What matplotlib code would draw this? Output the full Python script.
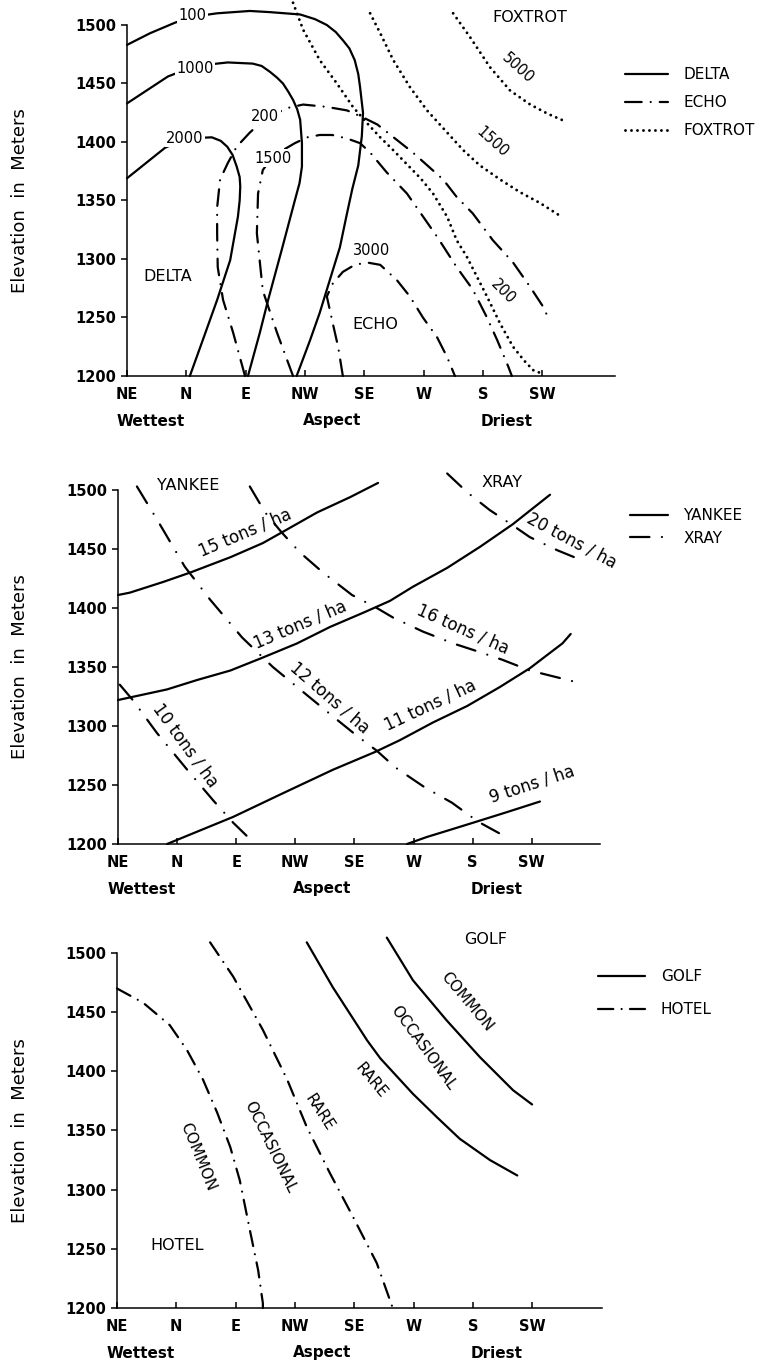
import matplotlib
matplotlib.use("Agg")
import matplotlib.pyplot as plt
from matplotlib.lines import Line2D

plt.rcParams["font.family"] = ["DejaVu Sans"]
plt.rcParams["lines.scale_dashes"] = False

# ---------------------------------------------------------------- axes data
aspects = ["NE", "N", "E", "NW", "SE", "W", "S", "SW"]
aspect_pos = [0, 1, 2, 3, 4, 5, 6, 7]
elev_ticks = [1200, 1250, 1300, 1350, 1400, 1450, 1500]
moisture_labels = ["Wettest", "Aspect", "Driest"]
moisture_pos = [0.40, 3.46, 6.40]

# ---------------------------------------------------------------- panel 1
delta_100_x = [0.00, 0.39, 0.81, 1.10, 1.52, 2.07, 2.41, 2.92, 3.17, 3.37, 3.52, 3.64, 3.75,
               3.84, 3.90, 3.93, 3.98, 3.96, 3.90, 3.80, 3.71, 3.59, 3.42, 3.25, 3.09, 2.92, 2.86]
delta_100_y = [1483, 1493, 1502, 1507, 1510, 1512, 1511, 1509, 1505, 1500, 1494, 1487, 1480,
               1470, 1458, 1447, 1425, 1405, 1380, 1360, 1339, 1310, 1282, 1254, 1231, 1208, 1200]
delta_1000_x = [0.00, 0.69, 1.15, 1.70, 2.12, 2.27, 2.41, 2.53, 2.63, 2.72, 2.80, 2.87, 2.92,
                2.95, 2.95, 2.91, 2.83, 2.61, 2.38, 2.24, 2.04]
delta_1000_y = [1433, 1456, 1465, 1468, 1467, 1465, 1460, 1455, 1450, 1443, 1436, 1428, 1419,
                1399, 1379, 1365, 1350, 1308, 1265, 1237, 1200]
delta_2000_x = [0.00, 0.64, 0.98, 1.43, 1.58, 1.69, 1.78, 1.85, 1.90, 1.91, 1.90, 1.87, 1.74,
                1.52, 1.28, 1.06]
delta_2000_y = [1369, 1395, 1403, 1404, 1401, 1396, 1389, 1379, 1370, 1362, 1350, 1336, 1299,
                1265, 1231, 1200]

echo_200_x = [1.99, 1.79, 1.62, 1.53, 1.52, 1.52, 1.57, 1.70, 1.85, 2.07, 2.33, 2.70, 2.97,
              3.37, 3.71, 3.98, 4.22, 4.82, 5.33, 5.56, 5.83, 6.17, 6.51, 6.80, 7.02, 7.10]
echo_200_y = [1200, 1237, 1265, 1293, 1322, 1344, 1368, 1382, 1396, 1408, 1420, 1429, 1432,
              1430, 1427, 1421, 1415, 1391, 1368, 1353, 1339, 1316, 1297, 1276, 1259, 1250]
echo_1500_x = [2.80, 2.53, 2.29, 2.19, 2.21, 2.29, 2.46, 2.83, 3.04, 3.25, 3.46, 3.71, 3.93,
               4.10, 4.38, 4.72, 5.23, 5.56, 5.83, 6.07, 6.24, 6.43, 6.49]
echo_1500_y = [1200, 1237, 1273, 1322, 1356, 1376, 1388, 1399, 1404, 1406, 1406, 1403, 1399,
               1391, 1374, 1356, 1319, 1293, 1274, 1250, 1231, 1208, 1200]
echo_3000_x = [3.64, 3.56, 3.47, 3.37, 3.47, 3.64, 3.84, 4.05, 4.27, 4.55, 4.77, 4.99, 5.23,
               5.40, 5.53]
echo_3000_y = [1200, 1225, 1245, 1268, 1279, 1289, 1295, 1297, 1295, 1282, 1268, 1250, 1233,
               1216, 1200]

foxtrot_200_x = [2.80, 2.97, 3.25, 3.54, 3.81, 4.05, 4.27, 4.49, 4.72, 4.95, 5.16, 5.40, 5.56,
                 5.73, 5.90, 6.07, 6.29, 6.51, 6.70, 6.85, 6.95]
foxtrot_200_y = [1519, 1496, 1470, 1450, 1430, 1416, 1404, 1393, 1381, 1369, 1356, 1336, 1316,
                 1302, 1285, 1268, 1245, 1225, 1213, 1205, 1203]
foxtrot_1500_x = [4.10, 4.27, 4.49, 4.77, 5.06, 5.40, 5.67, 5.95, 6.29, 6.63, 6.96, 7.30]
foxtrot_1500_y = [1510, 1493, 1470, 1447, 1427, 1408, 1393, 1380, 1368, 1357, 1348, 1337]
foxtrot_5000_x = [5.50, 5.78, 6.12, 6.46, 6.80, 7.10, 7.42]
foxtrot_5000_y = [1510, 1490, 1464, 1444, 1432, 1424, 1417]

# ---------------------------------------------------------------- panel 2
yankee_15_x = [0.00, 0.20, 0.76, 1.22, 1.90, 2.45, 2.77, 3.37, 3.93, 4.40]
yankee_15_y = [1411, 1413, 1422, 1430, 1443, 1455, 1464, 1481, 1494, 1506]
yankee_13_x = [0.00, 0.83, 1.34, 1.90, 2.45, 3.03, 3.59, 4.15, 4.60, 4.99, 5.57, 6.13, 6.68, 7.31]
yankee_13_y = [1322, 1331, 1339, 1347, 1358, 1370, 1384, 1396, 1406, 1418, 1434, 1452, 1471, 1496]
yankee_11_x = [0.83, 1.95, 2.79, 3.64, 4.35, 4.77, 5.33, 5.91, 6.46, 6.97, 7.31, 7.52, 7.66]
yankee_11_y = [1200, 1223, 1243, 1263, 1278, 1288, 1303, 1317, 1333, 1349, 1362, 1370, 1378]
yankee_9_x = [4.89, 5.23, 5.62, 6.07, 6.58, 7.14]
yankee_9_y = [1200, 1206, 1212, 1219, 1227, 1236]

xray_20_x = [5.57, 5.91, 6.29, 6.68, 6.97, 7.43, 7.82]
xray_20_y = [1514, 1498, 1483, 1470, 1460, 1449, 1441]
xray_16_x = [2.23, 2.49, 2.77, 3.08, 3.47, 3.96, 4.38, 4.65, 5.16, 5.67, 6.10, 6.51, 6.97,
             7.29, 7.85]
xray_16_y = [1503, 1481, 1464, 1447, 1430, 1411, 1400, 1392, 1380, 1370, 1363, 1356, 1347,
             1343, 1336]
xray_12_x = [0.32, 0.66, 1.13, 1.56, 2.10, 2.62, 3.08, 3.64, 4.06, 4.38, 4.69, 5.19, 5.65,
             6.09, 6.60]
xray_12_y = [1503, 1475, 1435, 1407, 1375, 1350, 1331, 1308, 1291, 1279, 1265, 1248, 1235,
             1219, 1205]
xray_10_x = [0.03, 0.25, 0.66, 1.17, 1.61, 1.95, 2.32]
xray_10_y = [1335, 1322, 1294, 1263, 1237, 1218, 1200]

# ---------------------------------------------------------------- panel 3
hotel_common_x = [0.00, 0.44, 0.89, 1.18, 1.45, 1.69, 1.91, 2.07, 2.24, 2.38, 2.46, 2.46]
hotel_common_y = [1470, 1458, 1439, 1418, 1393, 1365, 1336, 1308, 1266, 1232, 1204, 1200]
hotel_rare_x = [1.57, 1.96, 2.46, 2.87, 3.20, 3.59, 3.98, 4.38, 4.65]
hotel_rare_y = [1509, 1480, 1435, 1393, 1353, 1314, 1277, 1238, 1200]
golf_rare_x = [3.20, 3.64, 4.22, 4.44, 4.77, 4.99, 5.40, 5.78, 6.29, 6.75]
golf_rare_y = [1509, 1471, 1426, 1411, 1393, 1381, 1361, 1343, 1325, 1312]
golf_common_x = [4.55, 4.99, 5.56, 6.12, 6.68, 7.00]
golf_common_y = [1513, 1477, 1443, 1412, 1384, 1372]

# ---------------------------------------------------------------- styles
LW = 1.6
SOLID = dict(color="black", lw=LW, ls="-", solid_capstyle="round", solid_joinstyle="round")
DASHDOT1 = dict(color="black", lw=LW, ls=(0, (12, 6.5, 0.01, 6.5)), dash_capstyle="round")
DASHDOT2 = dict(color="black", lw=LW, ls=(0, (14, 9, 0.01, 9)), dash_capstyle="round")
DASHDOT3 = dict(color="black", lw=LW, ls=(0, (11, 6, 0.01, 6)), dash_capstyle="round")
DOTTED = dict(color="black", lw=2.1, ls=(0, (0.01, 4.3)), dash_capstyle="round")

FIG_W, FIG_H = 766, 1363
fig = plt.figure(figsize=(FIG_W / 100, FIG_H / 100), dpi=100)


def make_axes(left, right, bottom, top, unit):
    """Axes from pixel extents; unit = pixels per aspect class."""
    ax = fig.add_axes([left / FIG_W, 1 - bottom / FIG_H,
                       (right - left) / FIG_W, (bottom - top) / FIG_H])
    ax.set_xlim(0, (right - left) / unit)
    ax.set_ylim(1200, 1500)
    for s in ("top", "right"):
        ax.spines[s].set_visible(False)
    for s in ("left", "bottom"):
        ax.spines[s].set_linewidth(1.1)
    ax.set_xticks(aspect_pos)
    ax.set_xticklabels(aspects, fontsize=10.5, fontweight="bold")
    ax.set_yticks(elev_ticks)
    ax.set_yticklabels([str(v) for v in elev_ticks], fontsize=10.5, fontweight="bold")
    ax.tick_params(axis="x", direction="in", length=4, width=1.1, pad=8)
    ax.tick_params(axis="y", direction="out", length=4, width=1.1, pad=4)
    h = bottom - top
    for lab, pos in zip(moisture_labels, moisture_pos):
        ax.text(pos, -45 / h, lab, transform=ax.get_xaxis_transform(),
                ha="center", va="center", fontsize=11, fontweight="bold")
    fig.text(20 / FIG_W, 1 - (top + bottom) / 2 / FIG_H, "Elevation  in  Meters",
             rotation=90, ha="center", va="center", fontsize=13)
    return ax


def curve(ax, x, y, style):
    ax.plot(x, y, clip_on=False, **style)


def label(ax, x, y, s, rot=0, mask=False, size=10.5):
    kw = {}
    if mask:
        kw["bbox"] = dict(facecolor="white", edgecolor="none", pad=1.0)
    ax.text(x, y, s, rotation=rot, ha="center", va="center", fontsize=size,
            rotation_mode="anchor", clip_on=False, zorder=5, **kw)


def legend(ax, entries, fx, fy, hlen, spacing):
    handles = [Line2D([], [], **st) for _, st in entries]
    ax.legend(handles, [n for n, _ in entries], loc="upper left",
              bbox_to_anchor=(fx / FIG_W, 1 - fy / FIG_H), bbox_transform=fig.transFigure,
              frameon=False, borderpad=0, borderaxespad=0, handlelength=hlen,
              handletextpad=1.0, labelspacing=spacing, fontsize=11)


# ---------------------------------------------------------------- panel 1
ax1 = make_axes(127, 615, 376, 25, 59.3)
curve(ax1, delta_100_x, delta_100_y, SOLID)
curve(ax1, delta_1000_x, delta_1000_y, SOLID)
curve(ax1, delta_2000_x, delta_2000_y, SOLID)
curve(ax1, echo_200_x, echo_200_y, DASHDOT1)
curve(ax1, echo_1500_x, echo_1500_y, DASHDOT1)
curve(ax1, echo_3000_x, echo_3000_y, DASHDOT1)
curve(ax1, foxtrot_200_x, foxtrot_200_y, DOTTED)
curve(ax1, foxtrot_1500_x, foxtrot_1500_y, DOTTED)
curve(ax1, foxtrot_5000_x, foxtrot_5000_y, DOTTED)
label(ax1, 1.11, 1508, "100", mask=True)
label(ax1, 1.15, 1463, "1000", mask=True)
label(ax1, 0.98, 1403, "2000", mask=True)
label(ax1, 2.33, 1422, "200", mask=True)
label(ax1, 2.46, 1386, "1500", mask=True)
label(ax1, 4.13, 1307, "3000")
label(ax1, 6.59, 1463, "5000", rot=-42)
label(ax1, 6.16, 1400, "1500", rot=-42)
label(ax1, 6.34, 1272, "200", rot=-45)
label(ax1, 0.69, 1285, "DELTA", size=11.5)
label(ax1, 4.18, 1244, "ECHO", size=11.5)
label(ax1, 6.80, 1506, "FOXTROT", size=11.5)
legend(ax1, [("DELTA", SOLID), ("ECHO", DASHDOT1), ("FOXTROT", DOTTED)],
       625, 67, 2.8, 0.85)

# ---------------------------------------------------------------- panel 2
ax2 = make_axes(118, 600, 844, 490, 59.1)
curve(ax2, yankee_15_x, yankee_15_y, SOLID)
curve(ax2, yankee_13_x, yankee_13_y, SOLID)
curve(ax2, yankee_11_x, yankee_11_y, SOLID)
curve(ax2, yankee_9_x, yankee_9_y, SOLID)
curve(ax2, xray_20_x, xray_20_y, DASHDOT2)
curve(ax2, xray_16_x, xray_16_y, DASHDOT2)
curve(ax2, xray_12_x, xray_12_y, DASHDOT2)
curve(ax2, xray_10_x, xray_10_y, DASHDOT2)
label(ax2, 2.15, 1464, "15 tons / ha", rot=23, size=12)
label(ax2, 3.08, 1386, "13 tons / ha", rot=23, size=12)
label(ax2, 5.28, 1318, "11 tons / ha", rot=25, size=12)
label(ax2, 7.00, 1251, "9 tons / ha", rot=18, size=12)
label(ax2, 7.68, 1457, "20 tons / ha", rot=-28, size=12)
label(ax2, 5.84, 1382, "16 tons / ha", rot=-24, size=12)
label(ax2, 3.58, 1324, "12 tons / ha", rot=-41, size=12)
label(ax2, 1.14, 1284, "10 tons / ha", rot=-54, size=12)
label(ax2, 1.18, 1504, "YANKEE", size=11.5)
label(ax2, 6.50, 1506, "XRAY", size=11.5)
legend(ax2, [("YANKEE", SOLID), ("XRAY", DASHDOT2)], 630, 508, 2.5, 0.5)

# ---------------------------------------------------------------- panel 3
ax3 = make_axes(117, 602, 1308, 953, 59.3)
curve(ax3, hotel_common_x, hotel_common_y, DASHDOT3)
curve(ax3, hotel_rare_x, hotel_rare_y, DASHDOT3)
curve(ax3, golf_rare_x, golf_rare_y, SOLID)
curve(ax3, golf_common_x, golf_common_y, SOLID)
label(ax3, 5.90, 1459, "COMMON", rot=-50, size=11)
label(ax3, 5.16, 1420, "OCCASIONAL", rot=-54, size=11)
label(ax3, 4.28, 1392, "RARE", rot=-50, size=11)
label(ax3, 3.42, 1365, "RARE", rot=-57, size=11)
label(ax3, 2.58, 1336, "OCCASIONAL", rot=-64, size=11)
label(ax3, 1.37, 1328, "COMMON", rot=-68, size=11)
label(ax3, 6.21, 1511, "GOLF", size=11.5)
label(ax3, 1.01, 1253, "HOTEL", size=11.5)
legend(ax3, [("GOLF", SOLID), ("HOTEL", DASHDOT3)], 598, 969, 3.1, 1.2)

fig.savefig("out.png", dpi=100, facecolor="white")
